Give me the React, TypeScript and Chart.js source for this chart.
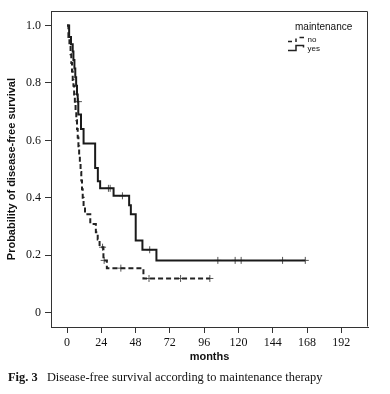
import React, { useEffect, useRef } from 'react';
import { Chart, registerables } from 'chart.js';

Chart.register(...registerables);

const xTicks = [0, 24, 48, 72, 96, 120, 144, 168, 192];
const yTicks = [0, 0.2, 0.4, 0.6, 0.8, 1.0];
const groupLabels = ['no', 'yes'];
const legendTitle = 'maintenance';
const xTitle = 'months';
const yTitle = 'Probability of disease-free survival';

const noTimes = [0, 1, 1.7, 2.5, 3, 3.5, 4, 4.5, 5, 5.5, 6, 6.5, 7, 7.5, 8, 8.5, 9, 9.5, 10, 10.5, 11, 11.6, 12.6, 16.3, 20.2, 21.5, 22.8, 25.5, 27.9, 53.5, 100];
const noSurv = [1.0, 0.96, 0.93, 0.9, 0.87, 0.84, 0.81, 0.79, 0.76, 0.73, 0.7, 0.67, 0.64, 0.61, 0.58, 0.55, 0.52, 0.49, 0.46, 0.43, 0.4, 0.37, 0.343, 0.309, 0.28, 0.255, 0.228, 0.182, 0.155, 0.119, 0.119];
const noCensorTimes = [24.9, 26, 37.7, 57.4, 79.5, 100];
const noCensorSurv = [0.228, 0.182, 0.155, 0.119, 0.119, 0.119];

const yesTimes = [0, 1.5, 2.8, 4, 4.5, 5.2, 5.8, 6.4, 7.0, 7.5, 7.9, 9.8, 11.6, 19.7, 21.6, 23.2, 32.6, 43.5, 44.7, 48.1, 52.8, 62.6, 166.8];
const yesSurv = [1.0, 0.96, 0.935, 0.91, 0.88, 0.85, 0.82, 0.79, 0.76, 0.735, 0.69, 0.64, 0.589, 0.504, 0.458, 0.433, 0.407, 0.374, 0.343, 0.251, 0.219, 0.182, 0.182];
const yesCensorTimes = [8, 29, 30.2, 38.8, 57.9, 105.6, 117.7, 121.9, 150.9, 166.8];
const yesCensorSurv = [0.735, 0.433, 0.433, 0.407, 0.219, 0.182, 0.182, 0.182, 0.182, 0.182];

const toPts = (t: number[], s: number[]) => t.map((v, i) => ({ x: v, y: s[i] }));

const framePlugin = {
  id: 'frameAndLegend',
  afterDraw(chart: any) {
    const ctx: CanvasRenderingContext2D = chart.ctx;
    const xs = chart.scales.x;
    const ys = chart.scales.y;
    ctx.save();
    ctx.setLineDash([]);
    ctx.globalAlpha = 1;
    ctx.strokeStyle = '#333';
    ctx.lineWidth = 1;
    const l = Math.round(Number(xs.left)) + 0.5;
    const r = Math.round(Number(xs.right)) - 0.5;
    const t = Math.round(Number(ys.top)) + 0.5;
    const b = Math.round(Number(ys.bottom)) - 0.5;
    ctx.beginPath();
    ctx.moveTo(l, t);
    ctx.lineTo(r, t);
    ctx.moveTo(r, t);
    ctx.lineTo(r, b);
    ctx.stroke();

    // legend
    ctx.fillStyle = '#111';
    ctx.textBaseline = 'middle';
    ctx.textAlign = 'left';
    ctx.font = '10px "Liberation Sans", Arial, sans-serif';
    ctx.fillText(legendTitle, 295, 27);
    ctx.font = '8px "Liberation Sans", Arial, sans-serif';
    ctx.fillText(groupLabels[0], 307.5, 39.5);
    ctx.fillText(groupLabels[1], 307.5, 48.5);

    ctx.strokeStyle = '#222';
    ctx.lineWidth = 1.5;
    ctx.beginPath();
    ctx.moveTo(288, 41.5); ctx.lineTo(292, 41.5);
    ctx.moveTo(296, 42); ctx.lineTo(296, 38.5);
    ctx.moveTo(299.5, 37.5); ctx.lineTo(304, 37.5);
    ctx.stroke();
    ctx.beginPath();
    ctx.moveTo(288, 50.5); ctx.lineTo(296, 50.5); ctx.lineTo(296, 45.5); ctx.lineTo(303.5, 45.5); ctx.lineTo(303.5, 47.5);
    ctx.stroke();
    ctx.restore();
  },
};

export default function App() {
  const ref = useRef<HTMLCanvasElement | null>(null);
  useEffect(() => {
    if (!ref.current) return;
    const chart = new Chart(ref.current, {
      type: 'line',
      data: {
        datasets: [
          {
            label: groupLabels[0],
            data: toPts(noTimes, noSurv),
            borderColor: '#222',
            borderWidth: 2,
            borderDash: [5, 3],
            stepped: 'before',
            pointRadius: 0,
            fill: false,
          },
          {
            label: groupLabels[1],
            data: toPts(yesTimes, yesSurv),
            borderColor: '#1a1a1a',
            borderWidth: 2,
            stepped: 'before',
            pointRadius: 0,
            fill: false,
          },
          {
            label: groupLabels[0] + ' censored',
            data: toPts(noCensorTimes, noCensorSurv),
            showLine: false,
            pointStyle: 'cross',
            pointRadius: 3.5,
            borderColor: '#555',
            borderWidth: 1,
          },
          {
            label: groupLabels[1] + ' censored',
            data: toPts(yesCensorTimes, yesCensorSurv),
            showLine: false,
            pointStyle: 'cross',
            pointRadius: 3.5,
            borderColor: '#555',
            borderWidth: 1,
          },
        ],
      },
      options: {
        animation: false,
        responsive: false,
        devicePixelRatio: 1,
        layout: { padding: { left: 0, right: 22, top: 8, bottom: 0 } },
        plugins: { legend: { display: false }, tooltip: { enabled: false } },
        scales: {
          x: {
            type: 'linear',
            min: -11.2,
            max: 210.7,
            afterBuildTicks: (s: any) => { s.ticks = xTicks.map((v) => ({ value: v })); },
            afterFit: (s: any) => { s.height = 43; },
            grid: { drawOnChartArea: false, drawTicks: true, tickLength: 6, color: '#333' },
            border: { display: true, color: '#333', width: 1 },
            ticks: {
              padding: 3,
              maxRotation: 0,
              autoSkip: false,
              color: '#111',
              font: { family: '"Liberation Serif", "Times New Roman", serif', size: 12 },
              callback: (v: any) => String(v),
            },
            title: {
              display: true,
              text: xTitle,
              color: '#111',
              padding: { top: 0, bottom: 6 },
              font: { family: '"Liberation Sans", Arial, sans-serif', size: 11, weight: 'bold' },
            },
          },
          y: {
            type: 'linear',
            min: -0.05,
            max: 1.05,
            afterBuildTicks: (s: any) => { s.ticks = yTicks.map((v) => ({ value: v })); },
            afterFit: (s: any) => { s.width = 51; },
            grid: { drawOnChartArea: false, drawTicks: true, tickLength: 6, color: '#333' },
            border: { display: true, color: '#333', width: 1 },
            ticks: {
              padding: 4,
              autoSkip: false,
              color: '#111',
              font: { family: '"Liberation Serif", "Times New Roman", serif', size: 12 },
              callback: (v: any) => (v === 0 ? '0' : Number(v).toFixed(1)),
            },
            title: {
              display: true,
              text: yTitle,
              color: '#111',
              padding: { top: 5, bottom: 0 },
              font: { family: '"Liberation Sans", Arial, sans-serif', size: 11, weight: 'bold' },
            },
          },
        },
      },
      plugins: [framePlugin],
    } as any);
    return () => chart.destroy();
  }, []);

  return (
    <div style={{ position: 'absolute', left: 0, top: 0, width: 390, height: 394, background: '#fff' }}>
      <canvas ref={ref} width={390} height={370} style={{ position: 'absolute', left: 0, top: 0, width: 390, height: 370 }} />
      <div
        style={{
          position: 'absolute',
          left: 8,
          top: 369,
          fontFamily: '"Liberation Serif", "Times New Roman", serif',
          fontSize: 12.4,
          lineHeight: '16px',
          color: '#111',
          whiteSpace: 'pre',
        }}
      >
        <b>Fig. 3</b>{'   Disease-free survival according to maintenance therapy'}
      </div>
    </div>
  );
}
